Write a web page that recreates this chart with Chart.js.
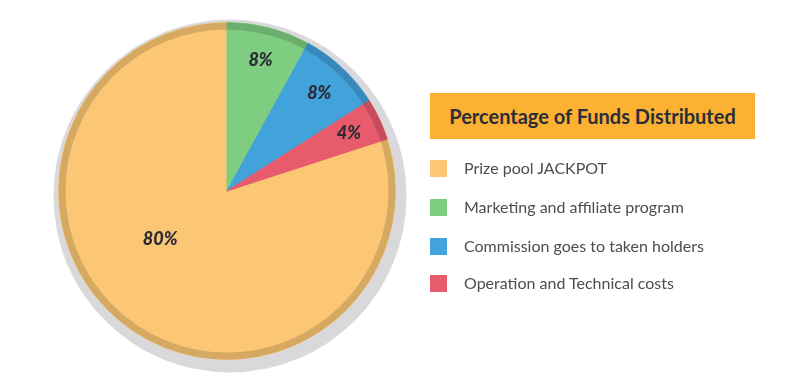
<!DOCTYPE html>
<html>
<head>
<meta charset="utf-8">
<script src="https://cdn.jsdelivr.net/npm/chart.js@4/dist/chart.umd.min.js"></script>
<style>
  html, body { margin: 0; padding: 0; background: #fff; }
  #wrap { position: relative; width: 800px; height: 388px; overflow: hidden; }
  #myChart { position: absolute; left: 0; top: 0; }
  #title {
    position: absolute; left: 430px; top: 93px; width: 325px; height: 46px;
    background: #fdb133; color: #2b2e38;
    font: bold 20px Lato, sans-serif; line-height: 46px; text-align: center;
  }
  .item { position: absolute; left: 430px; height: 18px; font: 16px Lato, sans-serif; color: #4d4d4f; }
  .item span.box { position: absolute; left: 0; top: 0; width: 17px; height: 17px; }
  .item span.txt { position: absolute; left: 34px; top: -1px; white-space: nowrap; line-height: 18px; }
</style>
</head>
<body>
<div id="wrap">
  <canvas id="myChart" width="800" height="388"></canvas>
  <div id="title"></div>
  <div id="legend"></div>
</div>
<script>
var chartTitle = "Percentage of Funds Distributed";
var categories = ["Prize pool JACKPOT", "Marketing and affiliate program", "Commission goes to taken holders", "Operation and Technical costs"];
var shares = [80, 8, 8, 4];
var colors = ['#fbc774', '#7ecd80', '#42a2da', '#e85b6d'];

// where each % label sits inside its slice (fraction of radius, angle shift in deg)
var labelSpots = [{ r: 0.49, shift: 18 }, { r: 0.8, shift: 0 }, { r: 0.8, shift: 0 }, { r: 0.8, shift: 0 }];

document.getElementById('title').textContent = chartTitle;
var legend = document.getElementById('legend');
var rowTops = [160, 199, 238, 275];
categories.forEach(function (name, i) {
    var div = document.createElement('div');
    div.className = 'item';
    div.style.top = rowTops[i] + 'px';
    div.innerHTML = '<span class="box" style="background:' + colors[i] + '"></span><span class="txt"></span>';
    div.querySelector('.txt').textContent = name;
    legend.appendChild(div);
});

// grey disc behind the pie and the darker ring on its edge
var pieDecor = {
    id: 'pieDecor',
    beforeDatasetsDraw: function (chart) {
        var arc = chart.getDatasetMeta(0).data[0];
        var ctx = chart.ctx;
        ctx.save();
        ctx.fillStyle = '#d9d9db';
        ctx.beginPath();
        ctx.arc(arc.x + 3, arc.y + 5, arc.outerRadius + 8, 0, Math.PI * 2);
        ctx.fill();
        ctx.restore();
    },
    afterDatasetsDraw: function (chart) {
        var meta = chart.getDatasetMeta(0);
        var arc = meta.data[0];
        var ctx = chart.ctx;
        ctx.save();
        ctx.strokeStyle = 'rgba(0,0,0,0.15)';
        ctx.lineWidth = 7;
        ctx.beginPath();
        ctx.arc(arc.x, arc.y, arc.outerRadius - 3.5, 0, Math.PI * 2);
        ctx.stroke();

        ctx.fillStyle = '#2b2b33';
        ctx.font = 'italic 900 18px Lato, sans-serif';
        ctx.textAlign = 'center';
        ctx.textBaseline = 'middle';
        meta.data.forEach(function (a, i) {
            var spot = labelSpots[i];
            var mid = (a.startAngle + a.endAngle) / 2 + spot.shift * Math.PI / 180;
            var r = a.outerRadius * spot.r;
            ctx.fillText(shares[i] + '%', a.x + Math.cos(mid) * r, a.y + Math.sin(mid) * r);
        });
        ctx.restore();
    }
};

var ctx = document.getElementById('myChart').getContext('2d');
var chart = new Chart(ctx, {
    type: 'pie',
    data: {
        labels: categories,
        datasets: [{
            data: shares,
            backgroundColor: colors,
            borderColor: colors,
            borderWidth: 1
        }]
    },
    options: {
        responsive: false,
        animation: false,
        rotation: 72,
        layout: { padding: { left: 58, right: 404, top: 22, bottom: 28 } },
        plugins: {
            legend: { display: false },
            tooltip: { enabled: false }
        }
    },
    plugins: [pieDecor]
});
</script>
</body>
</html>
